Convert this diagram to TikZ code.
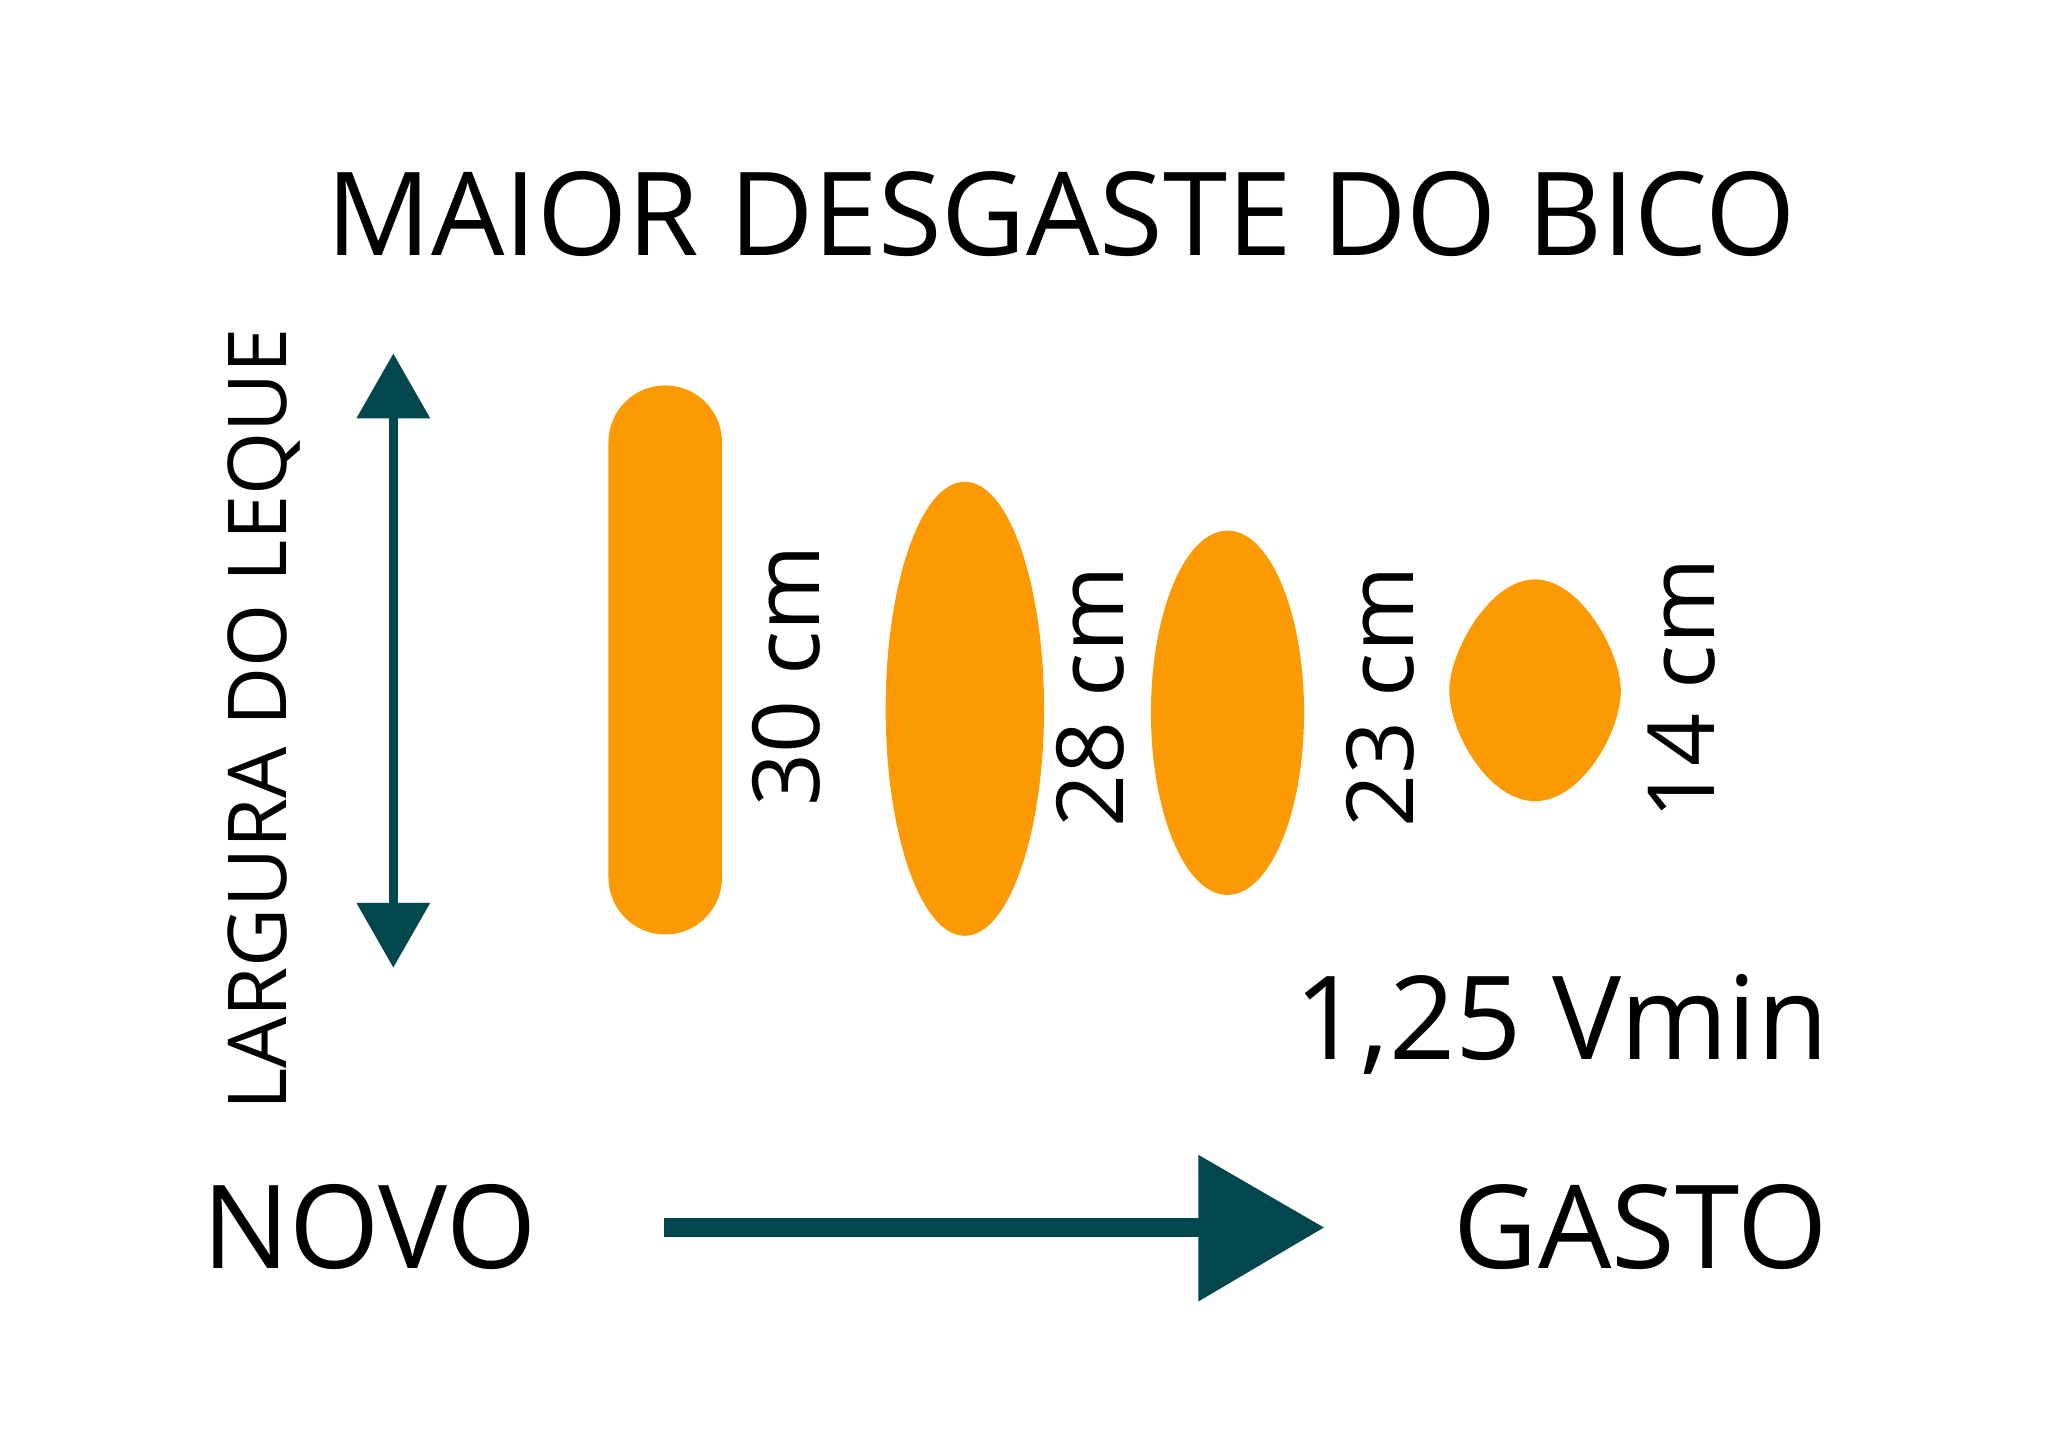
\documentclass[tikz,border=0pt]{standalone}
\usepackage{fontspec}
\setmainfont{Open Sans}
\definecolor{teal}{HTML}{02474D}
\definecolor{laranja}{HTML}{FC9A03}
\tikzset{
	big/.style   = {font=\fontsize{25}{25}\selectfont, inner sep=0pt},
	medida/.style = {font=\fontsize{20}{20}\selectfont, inner sep=0pt, rotate=90},
	leque/.style  = {fill=laranja, draw=none}
}
\begin{document}
\begin{tikzpicture}[x=1cm, y=-1cm]
	\useasboundingbox (0,0) rectangle (15.6,10.92);
	% titulo e eixos
	\node[big] (titulo) at (8.04,1.62) {MAIOR DESGASTE DO BICO};
	\node[font=\fontsize{17.5}{17.5}\selectfont, inner sep=0pt, rotate=90] (largura) at (2.0,5.45) {LARGURA DO LEQUE};
	\node[big] (novo) at (2.8,9.3) {NOVO};
	\node[big] (gasto) at (12.43,9.3) {GASTO};
	\node[big] (vazao) at (11.83,7.76) {1,25 Vmin};

	% seta dupla
	\coordinate (topo) at (2.98,2.68);
	\coordinate (base) at (2.98,7.33);
	\draw[teal, line width=2pt] (2.98,3.15) -- (2.98,6.86);
	\fill[teal] (topo) -- (3.26,3.17) -- (2.70,3.17) -- cycle;
	\fill[teal] (base) -- (3.26,6.84) -- (2.70,6.84) -- cycle;

	% seta horizontal
	\coordinate (ini) at (5.03,9.3);
	\coordinate (fim) at (10.03,9.3);
	\draw[teal, line width=4pt] (ini) -- (9.1,9.3);
	\fill[teal] (fim) -- (9.08,8.75) -- (9.08,9.86) -- cycle;

	% leques
	\fill[leque, rounded corners=0.43cm] (4.61,2.92) rectangle (5.47,7.08);
	\fill[leque] (7.31,5.37) ellipse [x radius=0.60, y radius=1.72];
	\fill[leque] (9.30,5.40) ellipse [x radius=0.58, y radius=1.38];
	\fill[leque] (11.63,4.39) .. controls (11.98,4.39) and (12.28,4.95) .. (12.28,5.23)
		.. controls (12.28,5.55) and (11.98,6.07) .. (11.63,6.07)
		.. controls (11.28,6.07) and (10.98,5.55) .. (10.98,5.23)
		.. controls (10.98,4.95) and (11.28,4.39) .. (11.63,4.39) -- cycle;

	% medidas
	\node[medida] (m30) at (5.96,5.12) {30 cm};
	\node[medida] (m28) at (8.26,5.28) {28 cm};
	\node[medida] (m23) at (10.46,5.28) {23 cm};
	\node[medida] (m14) at (12.74,5.22) {14 cm};
\end{tikzpicture}
\end{document}
